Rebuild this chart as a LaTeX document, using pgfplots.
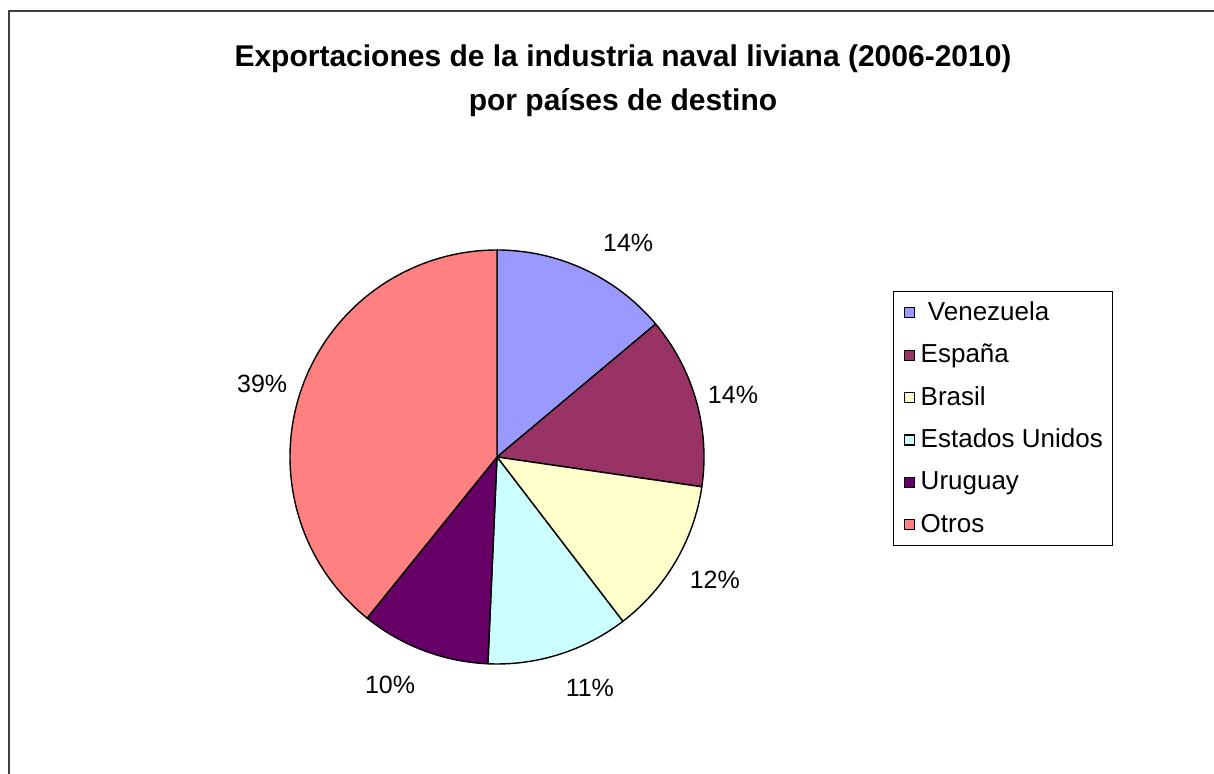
\documentclass[border=0pt]{standalone}
\usepackage{pgfplots}
\pgfplotsset{compat=1.18}
\usepackage{fontspec}
\setmainfont{Liberation Sans}
\definecolor{venez}{HTML}{9999FF}
\definecolor{espana}{HTML}{993366}
\definecolor{brasil}{HTML}{FFFFCC}
\definecolor{eeuu}{HTML}{CCFFFF}
\definecolor{uru}{HTML}{660066}
\definecolor{otros}{HTML}{FF8080}
\definecolor{frame}{HTML}{404040}

\begin{document}
\begin{tikzpicture}
  % 1 px of the reference = 0.5pt
  \begin{axis}[
      scale only axis,
      width=607pt, height=387pt,
      xmin=0, xmax=1214, ymin=0, ymax=774,
      hide axis, clip=false,
      sq/.style={legend image code/.code={%
          \draw[##1,line width=0.6pt] (0pt,-2.5pt) rectangle (5pt,2.5pt);}},
      legend cell align=left,
      legend style={
        at={(0.7356,0.6240)}, anchor=north west,
        draw=black, line width=0.5pt,
        font=\fontsize{13}{15}\selectfont,
        inner xsep=5pt, inner ysep=0pt,
        column sep=3pt, row sep=0pt,
        nodes={inner sep=0pt, minimum height=21.2pt},
      },
    ]
    \addlegendimage{sq,fill=venez,draw=black}\addlegendentry{\ Venezuela}
    \addlegendimage{sq,fill=espana,draw=black}\addlegendentry{España}
    \addlegendimage{sq,fill=brasil,draw=black}\addlegendentry{Brasil}
    \addlegendimage{sq,fill=eeuu,draw=black}\addlegendentry{Estados Unidos}
    \addlegendimage{sq,fill=uru,draw=black}\addlegendentry{Uruguay}
    \addlegendimage{sq,fill=otros,draw=black}\addlegendentry{Otros}

    % pie: share (%), colour, label angle, label distance (px), label
    \pgfplotsextra{
      \gdef\cum{0}
      \foreach \val/\col/\la/\lr/\txt in {
          13.9/venez/58.5/251/14,
          13.4/espana/14.7/244/14,
          12.3/brasil/-29.4/250/12,
          11.1/eeuu/-68.1/249/11,
          10.1/uru/-115.1/252/10,
          39.2/otros/162.7/246/39}{
        \pgfmathsetmacro\a{90-3.6*\cum}
        \pgfmathsetmacro\b{90-3.6*(\cum+\val)}
        \filldraw[fill=\col,draw=black,line width=0.7pt,line join=round]
          (axis cs:497,317) -- ++(\a:103.5pt)
          arc[start angle=\a,end angle=\b,radius=103.5pt] -- cycle;
        \pgfmathsetmacro\rr{\lr*0.5}
        \node[font=\fontsize{12.5}{14}\selectfont,inner sep=0pt]
          at ([shift={(\la:\rr pt)}]axis cs:497,317) {\txt\%};
        \pgfmathsetmacro\nextcum{\cum+\val}
        \global\let\cum\nextcum
      }
      \draw[frame,line width=0.75pt] (axis cs:9,-10) -- (axis cs:9,763) -- (axis cs:1230,763);
    }

    \node[font=\bfseries\fontsize{15}{22}\selectfont,align=center]
      at (axis cs:623,693) {Exportaciones de la industria naval liviana (2006-2010)\\por países de destino};
  \end{axis}
  \pgfresetboundingbox
  \path[use as bounding box] (0,0) rectangle (607pt,387pt);
\end{tikzpicture}
\end{document}
